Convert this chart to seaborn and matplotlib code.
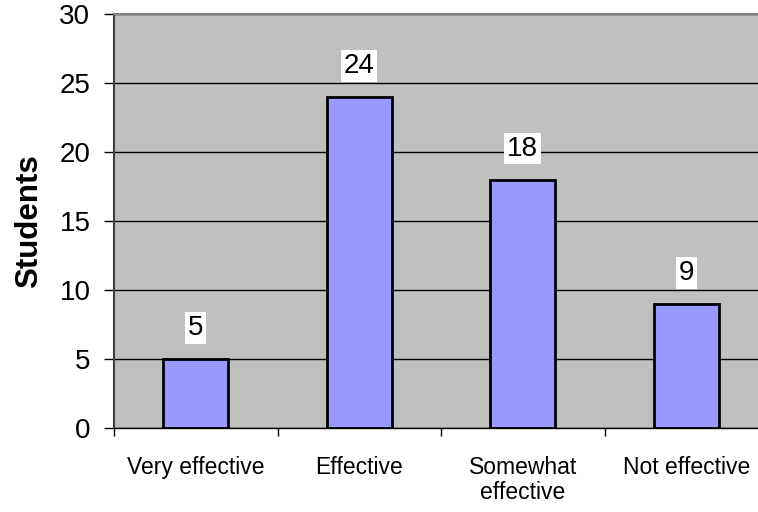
import pandas as pd
import seaborn as sns
import matplotlib.pyplot as plt

categories = ["Very effective", "Effective", "Somewhat\neffective", "Not effective"]
students = [5, 24, 18, 9]
y_ticks = [0, 5, 10, 15, 20, 25, 30]

sns.set_style("white")
plt.rcParams['font.family'] = ['Liberation Sans', 'DejaVu Sans']
plt.rcParams['text.color'] = 'black'
plt.rcParams['axes.labelcolor'] = 'black'
plt.rcParams['xtick.color'] = 'black'
plt.rcParams['ytick.color'] = 'black'
plt.rcParams['xtick.bottom'] = True
plt.rcParams['ytick.left'] = True

df = pd.DataFrame({"category": categories, "students": students})

fig = plt.figure(figsize=(7.58, 5.12), dpi=100)
# plot area runs past the right edge, like the original export
ax = fig.add_axes([114 / 758, 84 / 512, 654 / 758, 414 / 512])
ax.set_facecolor("#C0C0C0")

sns.barplot(data=df, x="category", y="students", color="#9999FF",
            saturation=1, width=0.4, edgecolor="black", linewidth=2,
            ax=ax, zorder=3)

ax.set_ylim(0, 30)
ax.set_xlim(-0.5, len(categories) - 0.5)
ax.set_yticks(y_ticks)
ax.set_yticklabels([str(t) for t in y_ticks], fontsize=20)
ax.yaxis.grid(True, color="black", linewidth=1, zorder=1)
ax.set_axisbelow(True)

# category labels without ticks, tick marks at the boundaries
ax.set_xticks(range(len(categories)))
ax.set_xticklabels(categories, fontsize=16.5, linespacing=1.15, va="top")
ax.tick_params(axis="x", which="major", length=0, pad=20)
ax.set_xticks([i - 0.5 for i in range(len(categories) + 1)], minor=True)
ax.tick_params(axis="x", which="minor", bottom=True, length=6, width=1, color="black")
ax.tick_params(axis="y", left=True, length=7, width=1, color="black", pad=10)

ax.set_xlabel("")
ax.set_ylabel("Students", fontsize=22.5, fontweight="bold", labelpad=11)

for sp in ["left", "bottom", "top"]:
    ax.spines[sp].set_visible(True)
ax.spines["left"].set_color("#404040")
ax.spines["left"].set_linewidth(1.5)
ax.spines["bottom"].set_color("black")
ax.spines["bottom"].set_linewidth(1)
ax.spines["top"].set_color("#808080")
ax.spines["top"].set_linewidth(1.5)
ax.spines["right"].set_visible(False)

for i, v in enumerate(students):
    ax.annotate(str(v), (i, v), xytext=(0, 13), textcoords="offset points",
                ha="center", va="bottom", fontsize=20,
                bbox=dict(boxstyle="square,pad=0.1", fc="white", ec="none"),
                zorder=5)

fig.savefig("out.png", dpi=100)
